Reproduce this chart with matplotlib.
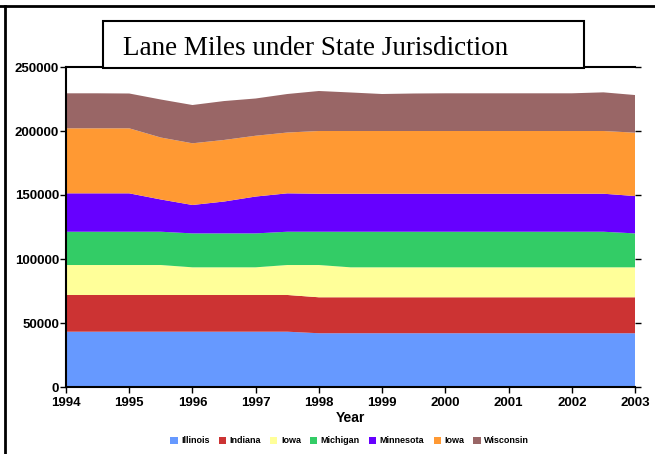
import matplotlib.pyplot as plt
from matplotlib.lines import Line2D
from matplotlib.patches import Rectangle

# half-year sample points
years = [1994, 1994.5, 1995, 1995.5, 1996, 1996.5, 1997, 1997.5, 1998, 1998.5,
         1999, 1999.5, 2000, 2000.5, 2001, 2001.5, 2002, 2002.5, 2003]

illinois = [43200] * 8 + [42000] * 11
indiana = [28700] * 8 + [28100] * 11
iowa_1 = [23400, 23400, 23400, 23400, 21600, 21600, 21600, 23400, 25200] + [23400] * 10
michigan = [26000, 26000, 26000, 26000, 26500, 26500, 26500, 26000, 26000] + [27800] * 9 + [26500]
minnesota = [30000, 30000, 30000, 25200, 22200, 24900, 28800, 30000] + [29700] * 10 + [29200]
iowa_2 = [50800, 50800, 50800, 48400, 48200, 48100, 47500, 47500] + [49000] * 10 + [49500]
wisconsin = [27350, 27350, 27200, 29700, 29900, 30400, 29100, 30100, 31250, 30100,
             28900, 29300, 29450, 29450, 29450, 29450, 29450, 30200, 29400]

labels = ["Illinois", "Indiana", "Iowa", "Michigan", "Minnesota", "Iowa", "Wisconsin"]
colors = ["#6699FF", "#CC3333", "#FFFF99", "#33CC66", "#6600FF", "#FF9933", "#996666"]

plt.rcParams["font.family"] = ["Liberation Sans", "DejaVu Sans"]

fig = plt.figure(figsize=(6.55, 4.54), dpi=100)
ax = fig.add_axes([66 / 655, 1 - 387 / 454, 569 / 655, 320 / 454])

ax.stackplot(years, illinois, indiana, iowa_1, michigan, minnesota, iowa_2, wisconsin,
             colors=colors, labels=labels, linewidth=0)

ax.set_xlim(1994, 2003)
ax.set_ylim(0, 250000)
ax.set_xticks(range(1994, 2004))
ax.set_yticks(range(0, 250001, 50000))
ax.tick_params(axis="both", direction="out", length=4, width=1, labelsize=9.5)
ax.tick_params(axis="y", right=True, pad=1)
for lab in ax.get_xticklabels() + ax.get_yticklabels():
    lab.set_fontweight("bold")
ax.set_xlabel("Year", fontsize=10, fontweight="bold", labelpad=1)

ax.spines["right"].set_visible(False)
for s in ["left", "bottom", "top"]:
    ax.spines[s].set_linewidth(1.5)

fig.legend(loc="center", bbox_to_anchor=(0.534, 0.029), ncol=7, frameon=False,
           prop={"size": 6.5, "weight": "bold"}, handlelength=0.8, handleheight=0.8,
           handletextpad=0.4, columnspacing=1.0)

# title box
fig.add_artist(Rectangle((103 / 655, 1 - 68 / 454), 481 / 655, 47 / 454,
                         transform=fig.transFigure, facecolor="white",
                         edgecolor="black", linewidth=1.5, zorder=5))
fig.text(123 / 655, 1 - 55 / 454, "Lane Miles under State Jurisdiction",
         family="Liberation Serif", fontsize=19.5, va="baseline", ha="left", zorder=6)

# outer frame (top and left edges)
fig.add_artist(Line2D([0, 1], [1 - 6 / 454, 1 - 6 / 454], transform=fig.transFigure,
                      color="black", linewidth=2))
fig.add_artist(Line2D([5 / 655, 5 / 655], [0, 1 - 6 / 454], transform=fig.transFigure,
                      color="black", linewidth=2))

fig.savefig("out.png", dpi=100)
